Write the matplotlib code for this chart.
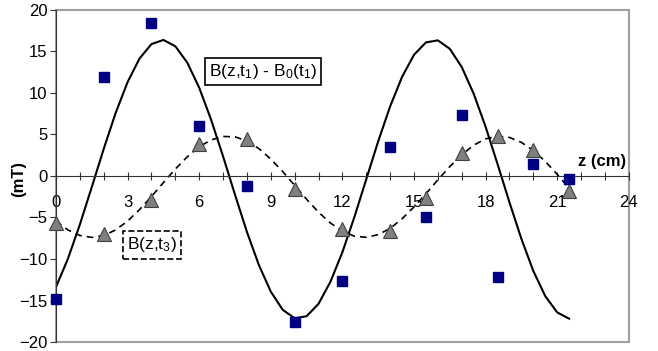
import matplotlib
matplotlib.use('Agg')
import matplotlib.pyplot as plt
from matplotlib.patches import Rectangle
from matplotlib.ticker import MultipleLocator

plt.rcParams['font.family'] = ['Liberation Sans', 'DejaVu Sans']
plt.rcParams['mathtext.fontset'] = 'custom'
plt.rcParams['mathtext.rm'] = 'Liberation Sans'
plt.rcParams['mathtext.it'] = 'Liberation Sans'

# measured points (squares: B(z,t1) - B0(t1), triangles: B(z,t3))
z_sq = [0, 2, 4, 6, 8, 10, 12, 14, 15.5, 17, 18.5, 20, 21.5]
b_sq = [-14.8, 11.9, 18.4, 6.0, -1.2, -17.6, -12.6, 3.5, -5.0, 7.3, -12.2, 1.5, -0.4]

z_tri = [0, 2, 4, 6, 8, 10, 12, 14, 15.5, 17, 18.5, 20, 21.5]
b_tri = [-5.7, -7.0, -2.9, 3.8, 4.5, -1.6, -6.4, -6.6, -2.7, 2.8, 4.8, 3.1, -1.8]

# fitted curves
z_fit = [0, 0.5, 1, 1.5, 2, 2.5, 3, 3.5, 4, 4.5, 5, 5.5, 6, 6.5, 7, 7.5, 8, 8.5,
         9, 9.5, 10, 10.5, 11, 11.5, 12, 12.5, 13, 13.5, 14, 14.5, 15, 15.5, 16,
         16.5, 17, 17.5, 18, 18.5, 19, 19.5, 20, 20.5, 21, 21.5]
b_fit1 = [-13.37, -9.97, -5.85, -1.33, 3.27, 7.60, 11.31, 14.15, 15.89, 16.39,
          15.63, 13.66, 10.64, 6.77, 2.37, -2.25, -6.73, -10.72, -13.93, -16.12,
          -17.14, -16.89, -15.40, -12.74, -9.18, -4.97, -0.40, 4.17, 8.38, 11.94,
          14.60, 16.09, 16.34, 15.32, 13.13, 9.92, 5.93, 1.45, -3.17, -7.57,
          -11.44, -14.47, -16.43, -17.19]
b_fit3 = [-5.43, -6.50, -7.17, -7.40, -7.17, -6.50, -5.43, -4.05, -2.47, -0.80,
          0.84, 2.31, 3.51, 4.35, 4.76, 4.72, 4.21, 3.30, 2.04, 0.53, -1.13, -2.80,
          -4.36, -5.67, -6.65, -7.25, -7.39, -7.07, -6.31, -5.16, -3.73, -2.14,
          -0.46, 1.13, 2.56, 3.71, 4.47, 4.79, 4.65, 4.05, 3.07, 1.76, 0.20, -1.47]

fig = plt.figure(figsize=(6.58, 3.51), dpi=100)
ax = fig.add_axes([0.0851, 0.0256, 0.8705, 0.946])

ax.plot(z_fit, b_fit1, color='black', lw=1.5, zorder=2)
ax.plot(z_fit, b_fit3, color='black', lw=1.2, ls=(0, (4, 3)), zorder=2)
ax.plot(z_tri, b_tri, ls='none', marker='^', ms=10, mfc='#808080', mec='#404040',
        mew=0.8, zorder=3, clip_on=False)
ax.plot(z_sq, b_sq, ls='none', marker='s', ms=7.5, mfc='#000080', mec='#000080',
        zorder=4, clip_on=False)

ax.set_xlim(0, 24)
ax.set_ylim(-20, 20)

# Excel-like axes: x axis through zero, grey plot-area border
for s in ['top', 'right']:
    ax.spines[s].set_visible(False)
ax.spines['bottom'].set_position(('data', 0))
ax.spines['bottom'].set_color('#333333')
ax.spines['left'].set_color('#333333')
ax.add_patch(Rectangle((0, 0), 1, 1, transform=ax.transAxes, fill=False,
                       ec='#a0a0a0', lw=1.5, zorder=0, clip_on=False))

ax.xaxis.set_major_locator(MultipleLocator(3))
ax.xaxis.set_minor_locator(MultipleLocator(1))
ax.yaxis.set_major_locator(MultipleLocator(5))
ax.tick_params(axis='x', which='both', direction='inout', length=6, width=0.8,
               pad=11, labelsize=12, color='#333333')
ax.tick_params(axis='y', direction='out', length=4, width=0.8, pad=2,
               labelsize=12, color='#333333')

ax.set_ylabel('(mT)', fontsize=12, fontweight='bold')
ax.yaxis.set_label_coords(-0.052, 0.49)
ax.text(22.9, 0.9, 'z (cm)', fontsize=12, fontweight='bold', ha='center',
        va='bottom')

ax.text(8.67, 12.6, r'B(z,t$_1$) - B$_0$(t$_1$)', fontsize=12.5, ha='center',
        va='center', bbox=dict(boxstyle='square,pad=0.25', fc='white', ec='black',
                               lw=1.2), zorder=5)
ax.text(4.03, -8.3, r'B(z,t$_3$)', fontsize=12.5, ha='center', va='center',
        bbox=dict(boxstyle='square,pad=0.25', fc='white', ec='black', lw=1.2,
                  ls='--'), zorder=5)

fig.savefig('out.png', dpi=100)
